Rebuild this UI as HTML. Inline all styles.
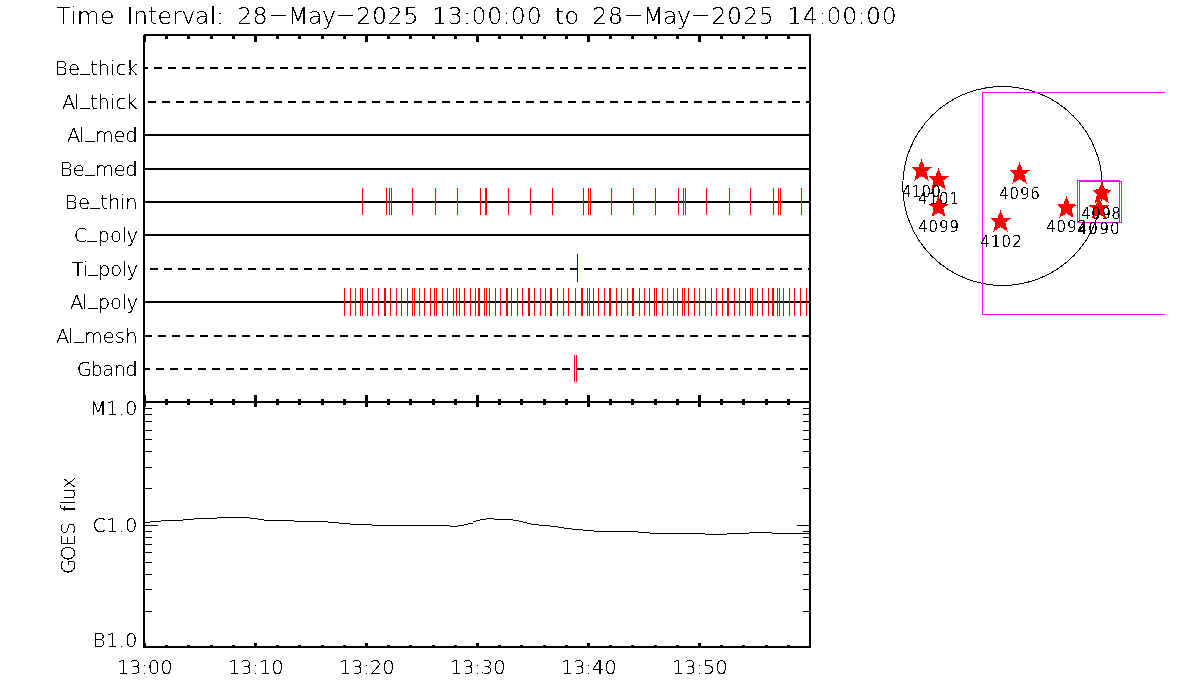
<!DOCTYPE html>
<html><head><meta charset="utf-8"><title>Time Interval plot</title>
<style>html,body{margin:0;padding:0;background:#fff;}svg{display:block;}
text{font-family:"DejaVu Sans","Liberation Sans",sans-serif;font-weight:200;fill:#000;}</style></head>
<body><svg xmlns="http://www.w3.org/2000/svg" width="1200" height="700" viewBox="0 0 1200 700">
<rect x="0" y="0" width="1200" height="700" fill="#fff"/>
<g shape-rendering="crispEdges">
<rect x="144" y="34" width="667" height="2" fill="#000"/>
<rect x="143" y="35" width="2" height="368" fill="#000"/>
<rect x="143" y="35" width="3" height="7" fill="#000"/>
<rect x="143" y="395" width="3" height="12" fill="#000"/>
<rect x="143" y="643" width="3" height="3" fill="#000"/>
<rect x="809" y="34" width="2" height="369" fill="#000"/>
<rect x="143" y="401" width="668" height="2" fill="#000"/>
<rect x="143" y="401" width="2" height="247" fill="#000"/>
<rect x="809" y="401" width="2" height="247" fill="#000"/>
<rect x="143" y="646" width="668" height="2" fill="#000"/>
<rect x="165" y="36" width="3" height="3" fill="#000"/>
<rect x="165" y="399" width="3" height="6" fill="#000"/>
<rect x="165" y="645" width="3" height="1" fill="#000"/>
<rect x="187" y="36" width="3" height="3" fill="#000"/>
<rect x="187" y="399" width="3" height="6" fill="#000"/>
<rect x="187" y="645" width="3" height="1" fill="#000"/>
<rect x="210" y="36" width="3" height="3" fill="#000"/>
<rect x="210" y="399" width="3" height="6" fill="#000"/>
<rect x="210" y="645" width="3" height="1" fill="#000"/>
<rect x="232" y="36" width="3" height="3" fill="#000"/>
<rect x="232" y="399" width="3" height="6" fill="#000"/>
<rect x="232" y="645" width="3" height="1" fill="#000"/>
<rect x="254" y="36" width="3" height="6" fill="#000"/>
<rect x="254" y="395" width="3" height="12" fill="#000"/>
<rect x="254" y="643" width="3" height="3" fill="#000"/>
<rect x="276" y="36" width="3" height="3" fill="#000"/>
<rect x="276" y="399" width="3" height="6" fill="#000"/>
<rect x="276" y="645" width="3" height="1" fill="#000"/>
<rect x="298" y="36" width="3" height="3" fill="#000"/>
<rect x="298" y="399" width="3" height="6" fill="#000"/>
<rect x="298" y="645" width="3" height="1" fill="#000"/>
<rect x="321" y="36" width="3" height="3" fill="#000"/>
<rect x="321" y="399" width="3" height="6" fill="#000"/>
<rect x="321" y="645" width="3" height="1" fill="#000"/>
<rect x="343" y="36" width="3" height="3" fill="#000"/>
<rect x="343" y="399" width="3" height="6" fill="#000"/>
<rect x="343" y="645" width="3" height="1" fill="#000"/>
<rect x="365" y="36" width="3" height="6" fill="#000"/>
<rect x="365" y="395" width="3" height="12" fill="#000"/>
<rect x="365" y="643" width="3" height="3" fill="#000"/>
<rect x="387" y="36" width="3" height="3" fill="#000"/>
<rect x="387" y="399" width="3" height="6" fill="#000"/>
<rect x="387" y="645" width="3" height="1" fill="#000"/>
<rect x="409" y="36" width="3" height="3" fill="#000"/>
<rect x="409" y="399" width="3" height="6" fill="#000"/>
<rect x="409" y="645" width="3" height="1" fill="#000"/>
<rect x="432" y="36" width="3" height="3" fill="#000"/>
<rect x="432" y="399" width="3" height="6" fill="#000"/>
<rect x="432" y="645" width="3" height="1" fill="#000"/>
<rect x="454" y="36" width="3" height="3" fill="#000"/>
<rect x="454" y="399" width="3" height="6" fill="#000"/>
<rect x="454" y="645" width="3" height="1" fill="#000"/>
<rect x="476" y="36" width="3" height="6" fill="#000"/>
<rect x="476" y="395" width="3" height="12" fill="#000"/>
<rect x="476" y="643" width="3" height="3" fill="#000"/>
<rect x="498" y="36" width="3" height="3" fill="#000"/>
<rect x="498" y="399" width="3" height="6" fill="#000"/>
<rect x="498" y="645" width="3" height="1" fill="#000"/>
<rect x="520" y="36" width="3" height="3" fill="#000"/>
<rect x="520" y="399" width="3" height="6" fill="#000"/>
<rect x="520" y="645" width="3" height="1" fill="#000"/>
<rect x="543" y="36" width="3" height="3" fill="#000"/>
<rect x="543" y="399" width="3" height="6" fill="#000"/>
<rect x="543" y="645" width="3" height="1" fill="#000"/>
<rect x="565" y="36" width="3" height="3" fill="#000"/>
<rect x="565" y="399" width="3" height="6" fill="#000"/>
<rect x="565" y="645" width="3" height="1" fill="#000"/>
<rect x="587" y="36" width="3" height="6" fill="#000"/>
<rect x="587" y="395" width="3" height="12" fill="#000"/>
<rect x="587" y="643" width="3" height="3" fill="#000"/>
<rect x="609" y="36" width="3" height="3" fill="#000"/>
<rect x="609" y="399" width="3" height="6" fill="#000"/>
<rect x="609" y="645" width="3" height="1" fill="#000"/>
<rect x="631" y="36" width="3" height="3" fill="#000"/>
<rect x="631" y="399" width="3" height="6" fill="#000"/>
<rect x="631" y="645" width="3" height="1" fill="#000"/>
<rect x="654" y="36" width="3" height="3" fill="#000"/>
<rect x="654" y="399" width="3" height="6" fill="#000"/>
<rect x="654" y="645" width="3" height="1" fill="#000"/>
<rect x="676" y="36" width="3" height="3" fill="#000"/>
<rect x="676" y="399" width="3" height="6" fill="#000"/>
<rect x="676" y="645" width="3" height="1" fill="#000"/>
<rect x="698" y="36" width="3" height="6" fill="#000"/>
<rect x="698" y="395" width="3" height="12" fill="#000"/>
<rect x="698" y="643" width="3" height="3" fill="#000"/>
<rect x="720" y="36" width="3" height="3" fill="#000"/>
<rect x="720" y="399" width="3" height="6" fill="#000"/>
<rect x="720" y="645" width="3" height="1" fill="#000"/>
<rect x="742" y="36" width="3" height="3" fill="#000"/>
<rect x="742" y="399" width="3" height="6" fill="#000"/>
<rect x="742" y="645" width="3" height="1" fill="#000"/>
<rect x="765" y="36" width="3" height="3" fill="#000"/>
<rect x="765" y="399" width="3" height="6" fill="#000"/>
<rect x="765" y="645" width="3" height="1" fill="#000"/>
<rect x="787" y="36" width="3" height="3" fill="#000"/>
<rect x="787" y="399" width="3" height="6" fill="#000"/>
<rect x="787" y="645" width="3" height="1" fill="#000"/>
<rect x="145" y="67" width="3" height="2" fill="#000"/>
<rect x="154" y="67" width="8" height="2" fill="#000"/>
<rect x="168" y="67" width="8" height="2" fill="#000"/>
<rect x="182" y="67" width="8" height="2" fill="#000"/>
<rect x="196" y="67" width="8" height="2" fill="#000"/>
<rect x="210" y="67" width="8" height="2" fill="#000"/>
<rect x="224" y="67" width="8" height="2" fill="#000"/>
<rect x="238" y="67" width="8" height="2" fill="#000"/>
<rect x="252" y="67" width="8" height="2" fill="#000"/>
<rect x="266" y="67" width="8" height="2" fill="#000"/>
<rect x="280" y="67" width="8" height="2" fill="#000"/>
<rect x="294" y="67" width="8" height="2" fill="#000"/>
<rect x="308" y="67" width="8" height="2" fill="#000"/>
<rect x="322" y="67" width="8" height="2" fill="#000"/>
<rect x="336" y="67" width="8" height="2" fill="#000"/>
<rect x="350" y="67" width="8" height="2" fill="#000"/>
<rect x="364" y="67" width="8" height="2" fill="#000"/>
<rect x="378" y="67" width="8" height="2" fill="#000"/>
<rect x="392" y="67" width="8" height="2" fill="#000"/>
<rect x="406" y="67" width="8" height="2" fill="#000"/>
<rect x="420" y="67" width="8" height="2" fill="#000"/>
<rect x="434" y="67" width="8" height="2" fill="#000"/>
<rect x="448" y="67" width="8" height="2" fill="#000"/>
<rect x="462" y="67" width="8" height="2" fill="#000"/>
<rect x="476" y="67" width="8" height="2" fill="#000"/>
<rect x="490" y="67" width="8" height="2" fill="#000"/>
<rect x="504" y="67" width="8" height="2" fill="#000"/>
<rect x="518" y="67" width="8" height="2" fill="#000"/>
<rect x="532" y="67" width="8" height="2" fill="#000"/>
<rect x="546" y="67" width="8" height="2" fill="#000"/>
<rect x="560" y="67" width="8" height="2" fill="#000"/>
<rect x="574" y="67" width="8" height="2" fill="#000"/>
<rect x="588" y="67" width="8" height="2" fill="#000"/>
<rect x="602" y="67" width="8" height="2" fill="#000"/>
<rect x="616" y="67" width="8" height="2" fill="#000"/>
<rect x="630" y="67" width="8" height="2" fill="#000"/>
<rect x="644" y="67" width="8" height="2" fill="#000"/>
<rect x="658" y="67" width="8" height="2" fill="#000"/>
<rect x="672" y="67" width="8" height="2" fill="#000"/>
<rect x="686" y="67" width="8" height="2" fill="#000"/>
<rect x="700" y="67" width="8" height="2" fill="#000"/>
<rect x="714" y="67" width="8" height="2" fill="#000"/>
<rect x="728" y="67" width="8" height="2" fill="#000"/>
<rect x="742" y="67" width="8" height="2" fill="#000"/>
<rect x="756" y="67" width="8" height="2" fill="#000"/>
<rect x="770" y="67" width="8" height="2" fill="#000"/>
<rect x="784" y="67" width="8" height="2" fill="#000"/>
<rect x="798" y="67" width="8" height="2" fill="#000"/>
<rect x="148" y="101" width="8" height="2" fill="#000"/>
<rect x="162" y="101" width="8" height="2" fill="#000"/>
<rect x="176" y="101" width="8" height="2" fill="#000"/>
<rect x="190" y="101" width="8" height="2" fill="#000"/>
<rect x="204" y="101" width="8" height="2" fill="#000"/>
<rect x="218" y="101" width="8" height="2" fill="#000"/>
<rect x="232" y="101" width="8" height="2" fill="#000"/>
<rect x="246" y="101" width="8" height="2" fill="#000"/>
<rect x="260" y="101" width="8" height="2" fill="#000"/>
<rect x="274" y="101" width="8" height="2" fill="#000"/>
<rect x="288" y="101" width="8" height="2" fill="#000"/>
<rect x="302" y="101" width="8" height="2" fill="#000"/>
<rect x="316" y="101" width="8" height="2" fill="#000"/>
<rect x="330" y="101" width="8" height="2" fill="#000"/>
<rect x="344" y="101" width="8" height="2" fill="#000"/>
<rect x="358" y="101" width="8" height="2" fill="#000"/>
<rect x="372" y="101" width="8" height="2" fill="#000"/>
<rect x="386" y="101" width="8" height="2" fill="#000"/>
<rect x="400" y="101" width="8" height="2" fill="#000"/>
<rect x="414" y="101" width="8" height="2" fill="#000"/>
<rect x="428" y="101" width="8" height="2" fill="#000"/>
<rect x="442" y="101" width="8" height="2" fill="#000"/>
<rect x="456" y="101" width="8" height="2" fill="#000"/>
<rect x="470" y="101" width="8" height="2" fill="#000"/>
<rect x="484" y="101" width="8" height="2" fill="#000"/>
<rect x="498" y="101" width="8" height="2" fill="#000"/>
<rect x="512" y="101" width="8" height="2" fill="#000"/>
<rect x="526" y="101" width="8" height="2" fill="#000"/>
<rect x="540" y="101" width="8" height="2" fill="#000"/>
<rect x="554" y="101" width="8" height="2" fill="#000"/>
<rect x="568" y="101" width="8" height="2" fill="#000"/>
<rect x="582" y="101" width="8" height="2" fill="#000"/>
<rect x="596" y="101" width="8" height="2" fill="#000"/>
<rect x="610" y="101" width="8" height="2" fill="#000"/>
<rect x="624" y="101" width="8" height="2" fill="#000"/>
<rect x="638" y="101" width="8" height="2" fill="#000"/>
<rect x="652" y="101" width="8" height="2" fill="#000"/>
<rect x="666" y="101" width="8" height="2" fill="#000"/>
<rect x="680" y="101" width="8" height="2" fill="#000"/>
<rect x="694" y="101" width="8" height="2" fill="#000"/>
<rect x="708" y="101" width="8" height="2" fill="#000"/>
<rect x="722" y="101" width="8" height="2" fill="#000"/>
<rect x="736" y="101" width="8" height="2" fill="#000"/>
<rect x="750" y="101" width="8" height="2" fill="#000"/>
<rect x="764" y="101" width="8" height="2" fill="#000"/>
<rect x="778" y="101" width="8" height="2" fill="#000"/>
<rect x="792" y="101" width="8" height="2" fill="#000"/>
<rect x="806" y="101" width="3" height="2" fill="#000"/>
<rect x="145" y="134" width="664" height="2" fill="#000"/>
<rect x="145" y="168" width="664" height="2" fill="#000"/>
<rect x="145" y="201" width="664" height="2" fill="#000"/>
<rect x="145" y="234" width="664" height="2" fill="#000"/>
<rect x="150" y="268" width="8" height="2" fill="#000"/>
<rect x="164" y="268" width="8" height="2" fill="#000"/>
<rect x="178" y="268" width="8" height="2" fill="#000"/>
<rect x="192" y="268" width="8" height="2" fill="#000"/>
<rect x="206" y="268" width="8" height="2" fill="#000"/>
<rect x="220" y="268" width="8" height="2" fill="#000"/>
<rect x="234" y="268" width="8" height="2" fill="#000"/>
<rect x="248" y="268" width="8" height="2" fill="#000"/>
<rect x="262" y="268" width="8" height="2" fill="#000"/>
<rect x="276" y="268" width="8" height="2" fill="#000"/>
<rect x="290" y="268" width="8" height="2" fill="#000"/>
<rect x="304" y="268" width="8" height="2" fill="#000"/>
<rect x="318" y="268" width="8" height="2" fill="#000"/>
<rect x="332" y="268" width="8" height="2" fill="#000"/>
<rect x="346" y="268" width="8" height="2" fill="#000"/>
<rect x="360" y="268" width="8" height="2" fill="#000"/>
<rect x="374" y="268" width="8" height="2" fill="#000"/>
<rect x="388" y="268" width="8" height="2" fill="#000"/>
<rect x="402" y="268" width="8" height="2" fill="#000"/>
<rect x="416" y="268" width="8" height="2" fill="#000"/>
<rect x="430" y="268" width="8" height="2" fill="#000"/>
<rect x="444" y="268" width="8" height="2" fill="#000"/>
<rect x="458" y="268" width="8" height="2" fill="#000"/>
<rect x="472" y="268" width="8" height="2" fill="#000"/>
<rect x="486" y="268" width="8" height="2" fill="#000"/>
<rect x="500" y="268" width="8" height="2" fill="#000"/>
<rect x="514" y="268" width="8" height="2" fill="#000"/>
<rect x="528" y="268" width="8" height="2" fill="#000"/>
<rect x="542" y="268" width="8" height="2" fill="#000"/>
<rect x="556" y="268" width="8" height="2" fill="#000"/>
<rect x="570" y="268" width="8" height="2" fill="#000"/>
<rect x="584" y="268" width="8" height="2" fill="#000"/>
<rect x="598" y="268" width="8" height="2" fill="#000"/>
<rect x="612" y="268" width="8" height="2" fill="#000"/>
<rect x="626" y="268" width="8" height="2" fill="#000"/>
<rect x="640" y="268" width="8" height="2" fill="#000"/>
<rect x="654" y="268" width="8" height="2" fill="#000"/>
<rect x="668" y="268" width="8" height="2" fill="#000"/>
<rect x="682" y="268" width="8" height="2" fill="#000"/>
<rect x="696" y="268" width="8" height="2" fill="#000"/>
<rect x="710" y="268" width="8" height="2" fill="#000"/>
<rect x="724" y="268" width="8" height="2" fill="#000"/>
<rect x="738" y="268" width="8" height="2" fill="#000"/>
<rect x="752" y="268" width="8" height="2" fill="#000"/>
<rect x="766" y="268" width="8" height="2" fill="#000"/>
<rect x="780" y="268" width="8" height="2" fill="#000"/>
<rect x="794" y="268" width="8" height="2" fill="#000"/>
<rect x="808" y="268" width="1" height="2" fill="#000"/>
<rect x="145" y="301" width="664" height="2" fill="#000"/>
<rect x="145" y="335" width="7" height="2" fill="#000"/>
<rect x="158" y="335" width="8" height="2" fill="#000"/>
<rect x="172" y="335" width="8" height="2" fill="#000"/>
<rect x="186" y="335" width="8" height="2" fill="#000"/>
<rect x="200" y="335" width="8" height="2" fill="#000"/>
<rect x="214" y="335" width="8" height="2" fill="#000"/>
<rect x="228" y="335" width="8" height="2" fill="#000"/>
<rect x="242" y="335" width="8" height="2" fill="#000"/>
<rect x="256" y="335" width="8" height="2" fill="#000"/>
<rect x="270" y="335" width="8" height="2" fill="#000"/>
<rect x="284" y="335" width="8" height="2" fill="#000"/>
<rect x="298" y="335" width="8" height="2" fill="#000"/>
<rect x="312" y="335" width="8" height="2" fill="#000"/>
<rect x="326" y="335" width="8" height="2" fill="#000"/>
<rect x="340" y="335" width="8" height="2" fill="#000"/>
<rect x="354" y="335" width="8" height="2" fill="#000"/>
<rect x="368" y="335" width="8" height="2" fill="#000"/>
<rect x="382" y="335" width="8" height="2" fill="#000"/>
<rect x="396" y="335" width="8" height="2" fill="#000"/>
<rect x="410" y="335" width="8" height="2" fill="#000"/>
<rect x="424" y="335" width="8" height="2" fill="#000"/>
<rect x="438" y="335" width="8" height="2" fill="#000"/>
<rect x="452" y="335" width="8" height="2" fill="#000"/>
<rect x="466" y="335" width="8" height="2" fill="#000"/>
<rect x="480" y="335" width="8" height="2" fill="#000"/>
<rect x="494" y="335" width="8" height="2" fill="#000"/>
<rect x="508" y="335" width="8" height="2" fill="#000"/>
<rect x="522" y="335" width="8" height="2" fill="#000"/>
<rect x="536" y="335" width="8" height="2" fill="#000"/>
<rect x="550" y="335" width="8" height="2" fill="#000"/>
<rect x="564" y="335" width="8" height="2" fill="#000"/>
<rect x="578" y="335" width="8" height="2" fill="#000"/>
<rect x="592" y="335" width="8" height="2" fill="#000"/>
<rect x="606" y="335" width="8" height="2" fill="#000"/>
<rect x="620" y="335" width="8" height="2" fill="#000"/>
<rect x="634" y="335" width="8" height="2" fill="#000"/>
<rect x="648" y="335" width="8" height="2" fill="#000"/>
<rect x="662" y="335" width="8" height="2" fill="#000"/>
<rect x="676" y="335" width="8" height="2" fill="#000"/>
<rect x="690" y="335" width="8" height="2" fill="#000"/>
<rect x="704" y="335" width="8" height="2" fill="#000"/>
<rect x="718" y="335" width="8" height="2" fill="#000"/>
<rect x="732" y="335" width="8" height="2" fill="#000"/>
<rect x="746" y="335" width="8" height="2" fill="#000"/>
<rect x="760" y="335" width="8" height="2" fill="#000"/>
<rect x="774" y="335" width="8" height="2" fill="#000"/>
<rect x="788" y="335" width="8" height="2" fill="#000"/>
<rect x="802" y="335" width="7" height="2" fill="#000"/>
<rect x="145" y="368" width="5" height="2" fill="#000"/>
<rect x="156" y="368" width="8" height="2" fill="#000"/>
<rect x="170" y="368" width="8" height="2" fill="#000"/>
<rect x="184" y="368" width="8" height="2" fill="#000"/>
<rect x="198" y="368" width="8" height="2" fill="#000"/>
<rect x="212" y="368" width="8" height="2" fill="#000"/>
<rect x="226" y="368" width="8" height="2" fill="#000"/>
<rect x="240" y="368" width="8" height="2" fill="#000"/>
<rect x="254" y="368" width="8" height="2" fill="#000"/>
<rect x="268" y="368" width="8" height="2" fill="#000"/>
<rect x="282" y="368" width="8" height="2" fill="#000"/>
<rect x="296" y="368" width="8" height="2" fill="#000"/>
<rect x="310" y="368" width="8" height="2" fill="#000"/>
<rect x="324" y="368" width="8" height="2" fill="#000"/>
<rect x="338" y="368" width="8" height="2" fill="#000"/>
<rect x="352" y="368" width="8" height="2" fill="#000"/>
<rect x="366" y="368" width="8" height="2" fill="#000"/>
<rect x="380" y="368" width="8" height="2" fill="#000"/>
<rect x="394" y="368" width="8" height="2" fill="#000"/>
<rect x="408" y="368" width="8" height="2" fill="#000"/>
<rect x="422" y="368" width="8" height="2" fill="#000"/>
<rect x="436" y="368" width="8" height="2" fill="#000"/>
<rect x="450" y="368" width="8" height="2" fill="#000"/>
<rect x="464" y="368" width="8" height="2" fill="#000"/>
<rect x="478" y="368" width="8" height="2" fill="#000"/>
<rect x="492" y="368" width="8" height="2" fill="#000"/>
<rect x="506" y="368" width="8" height="2" fill="#000"/>
<rect x="520" y="368" width="8" height="2" fill="#000"/>
<rect x="534" y="368" width="8" height="2" fill="#000"/>
<rect x="548" y="368" width="8" height="2" fill="#000"/>
<rect x="562" y="368" width="8" height="2" fill="#000"/>
<rect x="576" y="368" width="8" height="2" fill="#000"/>
<rect x="590" y="368" width="8" height="2" fill="#000"/>
<rect x="604" y="368" width="8" height="2" fill="#000"/>
<rect x="618" y="368" width="8" height="2" fill="#000"/>
<rect x="632" y="368" width="8" height="2" fill="#000"/>
<rect x="646" y="368" width="8" height="2" fill="#000"/>
<rect x="660" y="368" width="8" height="2" fill="#000"/>
<rect x="674" y="368" width="8" height="2" fill="#000"/>
<rect x="688" y="368" width="8" height="2" fill="#000"/>
<rect x="702" y="368" width="8" height="2" fill="#000"/>
<rect x="716" y="368" width="8" height="2" fill="#000"/>
<rect x="730" y="368" width="8" height="2" fill="#000"/>
<rect x="744" y="368" width="8" height="2" fill="#000"/>
<rect x="758" y="368" width="8" height="2" fill="#000"/>
<rect x="772" y="368" width="8" height="2" fill="#000"/>
<rect x="786" y="368" width="8" height="2" fill="#000"/>
<rect x="800" y="368" width="8" height="2" fill="#000"/>
<rect x="362" y="188" width="1" height="27" fill="#f00"/>
<rect x="386" y="188" width="1" height="27" fill="#f00"/>
<rect x="389" y="188" width="1" height="27" fill="#f00"/>
<rect x="391" y="188" width="1" height="27" fill="#f00"/>
<rect x="412" y="188" width="1" height="27" fill="#f00"/>
<rect x="435" y="188" width="1" height="27" fill="#f00"/>
<rect x="457" y="188" width="1" height="27" fill="#f00"/>
<rect x="480" y="188" width="1" height="27" fill="#f00"/>
<rect x="485" y="188" width="1" height="27" fill="#f00"/>
<rect x="486" y="188" width="1" height="27" fill="#f00"/>
<rect x="508" y="188" width="1" height="27" fill="#f00"/>
<rect x="530" y="188" width="1" height="27" fill="#f00"/>
<rect x="552" y="188" width="1" height="27" fill="#f00"/>
<rect x="583" y="188" width="1" height="27" fill="#f00"/>
<rect x="588" y="188" width="1" height="27" fill="#f00"/>
<rect x="590" y="188" width="1" height="27" fill="#f00"/>
<rect x="611" y="188" width="1" height="27" fill="#f00"/>
<rect x="633" y="188" width="1" height="27" fill="#f00"/>
<rect x="655" y="188" width="1" height="27" fill="#f00"/>
<rect x="678" y="188" width="1" height="27" fill="#f00"/>
<rect x="683" y="188" width="1" height="27" fill="#f00"/>
<rect x="685" y="188" width="1" height="27" fill="#f00"/>
<rect x="706" y="188" width="1" height="27" fill="#f00"/>
<rect x="729" y="188" width="1" height="27" fill="#f00"/>
<rect x="750" y="188" width="1" height="27" fill="#f00"/>
<rect x="773" y="188" width="1" height="27" fill="#f00"/>
<rect x="778" y="188" width="1" height="27" fill="#f00"/>
<rect x="780" y="188" width="1" height="27" fill="#f00"/>
<rect x="801" y="188" width="1" height="27" fill="#f00"/>
<rect x="344" y="288" width="1" height="28" fill="#f00"/>
<rect x="350" y="288" width="1" height="28" fill="#f00"/>
<rect x="355" y="288" width="1" height="28" fill="#f00"/>
<rect x="360" y="288" width="1" height="28" fill="#f00"/>
<rect x="362" y="288" width="1" height="28" fill="#f00"/>
<rect x="367" y="288" width="1" height="28" fill="#f00"/>
<rect x="372" y="288" width="1" height="28" fill="#f00"/>
<rect x="378" y="288" width="1" height="28" fill="#f00"/>
<rect x="384" y="288" width="1" height="28" fill="#f00"/>
<rect x="385" y="288" width="1" height="28" fill="#f00"/>
<rect x="390" y="288" width="1" height="28" fill="#f00"/>
<rect x="396" y="288" width="1" height="28" fill="#f00"/>
<rect x="401" y="288" width="1" height="28" fill="#f00"/>
<rect x="407" y="288" width="1" height="28" fill="#f00"/>
<rect x="412" y="288" width="1" height="28" fill="#f00"/>
<rect x="414" y="288" width="1" height="28" fill="#f00"/>
<rect x="419" y="288" width="1" height="28" fill="#f00"/>
<rect x="424" y="288" width="1" height="28" fill="#f00"/>
<rect x="430" y="288" width="1" height="28" fill="#f00"/>
<rect x="434" y="288" width="1" height="28" fill="#f00"/>
<rect x="436" y="288" width="1" height="28" fill="#f00"/>
<rect x="442" y="288" width="1" height="28" fill="#f00"/>
<rect x="447" y="288" width="1" height="28" fill="#f00"/>
<rect x="453" y="288" width="1" height="28" fill="#f00"/>
<rect x="456" y="288" width="1" height="28" fill="#f00"/>
<rect x="459" y="288" width="1" height="28" fill="#f00"/>
<rect x="464" y="288" width="1" height="28" fill="#f00"/>
<rect x="470" y="288" width="1" height="28" fill="#f00"/>
<rect x="475" y="288" width="1" height="28" fill="#f00"/>
<rect x="478" y="288" width="1" height="28" fill="#f00"/>
<rect x="479" y="288" width="1" height="28" fill="#f00"/>
<rect x="484" y="288" width="1" height="28" fill="#f00"/>
<rect x="486" y="288" width="1" height="28" fill="#f00"/>
<rect x="489" y="288" width="1" height="28" fill="#f00"/>
<rect x="495" y="288" width="1" height="28" fill="#f00"/>
<rect x="500" y="288" width="1" height="28" fill="#f00"/>
<rect x="506" y="288" width="1" height="28" fill="#f00"/>
<rect x="507" y="288" width="1" height="28" fill="#f00"/>
<rect x="511" y="288" width="1" height="28" fill="#f00"/>
<rect x="517" y="288" width="1" height="28" fill="#f00"/>
<rect x="522" y="288" width="1" height="28" fill="#f00"/>
<rect x="528" y="288" width="1" height="28" fill="#f00"/>
<rect x="529" y="288" width="1" height="28" fill="#f00"/>
<rect x="534" y="288" width="1" height="28" fill="#f00"/>
<rect x="540" y="288" width="1" height="28" fill="#f00"/>
<rect x="545" y="288" width="1" height="28" fill="#f00"/>
<rect x="550" y="288" width="1" height="28" fill="#f00"/>
<rect x="551" y="288" width="1" height="28" fill="#f00"/>
<rect x="557" y="288" width="1" height="28" fill="#f00"/>
<rect x="563" y="288" width="1" height="28" fill="#f00"/>
<rect x="568" y="288" width="1" height="28" fill="#f00"/>
<rect x="575" y="288" width="1" height="28" fill="#f00"/>
<rect x="581" y="288" width="1" height="28" fill="#f00"/>
<rect x="582" y="288" width="1" height="28" fill="#f00"/>
<rect x="587" y="288" width="1" height="28" fill="#f00"/>
<rect x="589" y="288" width="1" height="28" fill="#f00"/>
<rect x="593" y="288" width="1" height="28" fill="#f00"/>
<rect x="598" y="288" width="1" height="28" fill="#f00"/>
<rect x="604" y="288" width="1" height="28" fill="#f00"/>
<rect x="609" y="288" width="1" height="28" fill="#f00"/>
<rect x="610" y="288" width="1" height="28" fill="#f00"/>
<rect x="616" y="288" width="1" height="28" fill="#f00"/>
<rect x="621" y="288" width="1" height="28" fill="#f00"/>
<rect x="627" y="288" width="1" height="28" fill="#f00"/>
<rect x="632" y="288" width="1" height="28" fill="#f00"/>
<rect x="633" y="288" width="1" height="28" fill="#f00"/>
<rect x="639" y="288" width="1" height="28" fill="#f00"/>
<rect x="644" y="288" width="1" height="28" fill="#f00"/>
<rect x="649" y="288" width="1" height="28" fill="#f00"/>
<rect x="654" y="288" width="1" height="28" fill="#f00"/>
<rect x="656" y="288" width="1" height="28" fill="#f00"/>
<rect x="662" y="288" width="1" height="28" fill="#f00"/>
<rect x="667" y="288" width="1" height="28" fill="#f00"/>
<rect x="673" y="288" width="1" height="28" fill="#f00"/>
<rect x="677" y="288" width="1" height="28" fill="#f00"/>
<rect x="682" y="288" width="1" height="28" fill="#f00"/>
<rect x="684" y="288" width="1" height="28" fill="#f00"/>
<rect x="688" y="288" width="1" height="28" fill="#f00"/>
<rect x="694" y="288" width="1" height="28" fill="#f00"/>
<rect x="699" y="288" width="1" height="28" fill="#f00"/>
<rect x="705" y="288" width="1" height="28" fill="#f00"/>
<rect x="711" y="288" width="1" height="28" fill="#f00"/>
<rect x="716" y="288" width="1" height="28" fill="#f00"/>
<rect x="722" y="288" width="1" height="28" fill="#f00"/>
<rect x="727" y="288" width="1" height="28" fill="#f00"/>
<rect x="728" y="288" width="1" height="28" fill="#f00"/>
<rect x="734" y="288" width="1" height="28" fill="#f00"/>
<rect x="739" y="288" width="1" height="28" fill="#f00"/>
<rect x="745" y="288" width="1" height="28" fill="#f00"/>
<rect x="750" y="288" width="1" height="28" fill="#f00"/>
<rect x="752" y="288" width="1" height="28" fill="#f00"/>
<rect x="757" y="288" width="1" height="28" fill="#f00"/>
<rect x="762" y="288" width="1" height="28" fill="#f00"/>
<rect x="768" y="288" width="1" height="28" fill="#f00"/>
<rect x="772" y="288" width="1" height="28" fill="#f00"/>
<rect x="773" y="288" width="1" height="28" fill="#f00"/>
<rect x="777" y="288" width="1" height="28" fill="#f00"/>
<rect x="779" y="288" width="1" height="28" fill="#f00"/>
<rect x="783" y="288" width="1" height="28" fill="#f00"/>
<rect x="789" y="288" width="1" height="28" fill="#f00"/>
<rect x="794" y="288" width="1" height="28" fill="#f00"/>
<rect x="800" y="288" width="1" height="28" fill="#f00"/>
<rect x="806" y="288" width="1" height="28" fill="#f00"/>
<rect x="577" y="254" width="1" height="28" fill="#00f"/>
<rect x="574" y="355" width="1" height="27" fill="#f00"/>
<rect x="576" y="355" width="1" height="27" fill="#f00"/>
<rect x="145" y="488" width="7" height="1" fill="#000"/>
<rect x="803" y="488" width="6" height="1" fill="#000"/>
<rect x="145" y="467" width="7" height="1" fill="#000"/>
<rect x="803" y="467" width="6" height="1" fill="#000"/>
<rect x="145" y="451" width="7" height="1" fill="#000"/>
<rect x="803" y="451" width="6" height="1" fill="#000"/>
<rect x="145" y="439" width="7" height="1" fill="#000"/>
<rect x="803" y="439" width="6" height="1" fill="#000"/>
<rect x="145" y="430" width="7" height="1" fill="#000"/>
<rect x="803" y="430" width="6" height="1" fill="#000"/>
<rect x="145" y="421" width="7" height="1" fill="#000"/>
<rect x="803" y="421" width="6" height="1" fill="#000"/>
<rect x="145" y="414" width="7" height="1" fill="#000"/>
<rect x="803" y="414" width="6" height="1" fill="#000"/>
<rect x="145" y="408" width="7" height="1" fill="#000"/>
<rect x="803" y="408" width="6" height="1" fill="#000"/>
<rect x="145" y="611" width="7" height="1" fill="#000"/>
<rect x="803" y="611" width="6" height="1" fill="#000"/>
<rect x="145" y="589" width="7" height="1" fill="#000"/>
<rect x="803" y="589" width="6" height="1" fill="#000"/>
<rect x="145" y="574" width="7" height="1" fill="#000"/>
<rect x="803" y="574" width="6" height="1" fill="#000"/>
<rect x="145" y="562" width="7" height="1" fill="#000"/>
<rect x="803" y="562" width="6" height="1" fill="#000"/>
<rect x="145" y="552" width="7" height="1" fill="#000"/>
<rect x="803" y="552" width="6" height="1" fill="#000"/>
<rect x="145" y="544" width="7" height="1" fill="#000"/>
<rect x="803" y="544" width="6" height="1" fill="#000"/>
<rect x="145" y="537" width="7" height="1" fill="#000"/>
<rect x="803" y="537" width="6" height="1" fill="#000"/>
<rect x="145" y="531" width="7" height="1" fill="#000"/>
<rect x="803" y="531" width="6" height="1" fill="#000"/>
<rect x="145" y="525" width="13" height="1" fill="#000"/>
<rect x="797" y="525" width="12" height="1" fill="#000"/>
<rect x="145" y="522" width="5" height="1" fill="#000"/>
<rect x="150" y="521" width="11" height="1" fill="#000"/>
<rect x="161" y="520" width="22" height="1" fill="#000"/>
<rect x="183" y="519" width="11" height="1" fill="#000"/>
<rect x="194" y="518" width="23" height="1" fill="#000"/>
<rect x="217" y="517" width="33" height="1" fill="#000"/>
<rect x="250" y="518" width="8" height="1" fill="#000"/>
<rect x="258" y="519" width="6" height="1" fill="#000"/>
<rect x="264" y="520" width="30" height="1" fill="#000"/>
<rect x="294" y="521" width="34" height="1" fill="#000"/>
<rect x="328" y="522" width="11" height="1" fill="#000"/>
<rect x="339" y="523" width="11" height="1" fill="#000"/>
<rect x="350" y="524" width="22" height="1" fill="#000"/>
<rect x="372" y="525" width="78" height="1" fill="#000"/>
<rect x="450" y="526" width="8" height="1" fill="#000"/>
<rect x="458" y="525" width="6" height="1" fill="#000"/>
<rect x="464" y="524" width="4" height="1" fill="#000"/>
<rect x="468" y="523" width="5" height="1" fill="#000"/>
<rect x="473" y="521" width="3" height="1" fill="#000"/>
<rect x="476" y="520" width="4" height="1" fill="#000"/>
<rect x="480" y="519" width="6" height="1" fill="#000"/>
<rect x="486" y="518" width="8" height="1" fill="#000"/>
<rect x="494" y="519" width="19" height="1" fill="#000"/>
<rect x="513" y="520" width="6" height="1" fill="#000"/>
<rect x="519" y="521" width="4" height="1" fill="#000"/>
<rect x="523" y="522" width="4" height="1" fill="#000"/>
<rect x="527" y="523" width="4" height="1" fill="#000"/>
<rect x="531" y="524" width="8" height="1" fill="#000"/>
<rect x="539" y="525" width="11" height="1" fill="#000"/>
<rect x="550" y="526" width="8" height="1" fill="#000"/>
<rect x="558" y="527" width="6" height="1" fill="#000"/>
<rect x="564" y="528" width="8" height="1" fill="#000"/>
<rect x="572" y="529" width="11" height="1" fill="#000"/>
<rect x="583" y="530" width="11" height="1" fill="#000"/>
<rect x="594" y="531" width="44" height="1" fill="#000"/>
<rect x="638" y="532" width="12" height="1" fill="#000"/>
<rect x="650" y="533" width="55" height="1" fill="#000"/>
<rect x="705" y="534" width="22" height="1" fill="#000"/>
<rect x="727" y="533" width="22" height="1" fill="#000"/>
<rect x="749" y="532" width="23" height="1" fill="#000"/>
<rect x="772" y="533" width="37" height="1" fill="#000"/>
<ellipse cx="1002.5" cy="186" rx="99.75" ry="99.5" fill="none" stroke="#000" stroke-width="1" shape-rendering="crispEdges"/>
<rect x="982" y="92" width="183" height="1" fill="#f0f"/>
<rect x="982" y="314" width="183" height="1" fill="#f0f"/>
<rect x="982" y="92" width="1" height="223" fill="#f0f"/>
<rect x="1077.5" y="180.5" width="42" height="42" fill="none" stroke="#f0f" stroke-width="1"/>
<rect x="1079.5" y="181.5" width="42" height="41" fill="none" stroke="#f0f" stroke-width="1"/>
<polygon points="921.5,159.0 924.5,166.6 931.6,167.5 926.4,171.6 928.6,180.7 921.5,176.0 914.4,180.7 916.6,171.6 911.7,167.5 918.5,166.6" fill="#f00" shape-rendering="crispEdges"/>
<polygon points="938.5,168.0 941.5,175.6 948.6,176.5 943.4,180.6 945.6,189.7 938.5,185.0 931.4,189.7 933.6,180.6 928.7,176.5 935.5,175.6" fill="#f00" shape-rendering="crispEdges"/>
<polygon points="938.5,195.5 941.5,203.1 948.6,204.0 943.4,208.1 945.6,217.2 938.5,212.5 931.4,217.2 933.6,208.1 928.7,204.0 935.5,203.1" fill="#f00" shape-rendering="crispEdges"/>
<polygon points="1019.5,162.0 1022.5,169.6 1029.6,170.5 1024.4,174.6 1026.6,183.7 1019.5,179.0 1012.4,183.7 1014.6,174.6 1009.7,170.5 1016.5,169.6" fill="#f00" shape-rendering="crispEdges"/>
<polygon points="1000.5,210.0 1003.5,217.6 1010.6,218.5 1005.4,222.6 1007.6,231.7 1000.5,227.0 993.4,231.7 995.6,222.6 990.7,218.5 997.5,217.6" fill="#f00" shape-rendering="crispEdges"/>
<polygon points="1066.5,196.2 1069.5,203.8 1076.6,204.7 1071.4,208.8 1073.6,217.9 1066.5,213.2 1059.4,217.9 1061.6,208.8 1056.7,204.7 1063.5,203.8" fill="#f00" shape-rendering="crispEdges"/>
<polygon points="1101.8,181.5 1104.8,189.1 1111.9,190.0 1106.7,194.1 1108.9,203.2 1101.8,198.5 1094.7,203.2 1096.9,194.1 1092.0,190.0 1098.8,189.1" fill="#f00" shape-rendering="crispEdges"/>
<polygon points="1099.0,197.0 1102.0,204.6 1109.1,205.5 1103.9,209.6 1106.1,218.7 1099.0,214.0 1091.9,218.7 1094.1,209.6 1089.2,205.5 1096.0,204.6" fill="#f00" shape-rendering="crispEdges"/>
</g>
<defs><filter id="crisp" x="0" y="0" width="1200" height="700" filterUnits="userSpaceOnUse" color-interpolation-filters="sRGB"><feComponentTransfer><feFuncA type="discrete" tableValues="0 0 1 1 1"/></feComponentTransfer></filter><filter id="crisp2" x="0" y="0" width="1200" height="700" filterUnits="userSpaceOnUse" color-interpolation-filters="sRGB"><feComponentTransfer><feFuncA type="discrete" tableValues="0 1 1 1"/></feComponentTransfer></filter></defs>
<g filter="url(#crisp)">
<text x="56.57 69.95 76.77 99.92 116.83 126.57 133.25 148.32 157.54 172.17 181.49 195.05 209.64 216.05 226.53 237.00 252.78 274.17 288.00 307.91 321.97 341.25 356.17 371.95 387.74 403.52 421.47 431.93 447.72 463.07 471.39 487.18 502.53 510.85 526.64 544.58 554.76 564.41 581.68 592.14 607.92 629.31 643.14 663.05 677.11 696.39 711.31 727.09 742.88 758.66 776.61 787.07 802.86 818.21 826.53 842.32 857.67 865.99 881.78" y="24.13 24.13 24.13 24.13 24.13 24.13 24.13 24.13 24.13 24.13 24.13 24.13 24.13 24.13 24.13 24.13 24.13 22.13 24.13 24.13 24.13 22.13 24.13 24.13 24.13 24.13 24.13 24.13 24.13 24.13 24.13 24.13 24.13 24.13 24.13 24.13 24.13 24.13 24.13 24.13 24.13 22.13 24.13 24.13 24.13 22.13 24.13 24.13 24.13 24.13 24.13 24.13 24.13 24.13 24.13 24.13 24.13 24.13 24.13" font-size="23.5">Time Interval: 28-May-2025 13:00:00 to 28-May-2025 14:00:00</text><text x="0" y="0" font-size="23.5" text-anchor="middle" transform="translate(278.41,22.13) scale(2.4,1)">-</text><text x="0" y="0" font-size="23.5" text-anchor="middle" transform="translate(345.49,22.13) scale(2.4,1)">-</text><text x="0" y="0" font-size="23.5" text-anchor="middle" transform="translate(633.55,22.13) scale(2.4,1)">-</text><text x="0" y="0" font-size="23.5" text-anchor="middle" transform="translate(700.63,22.13) scale(2.4,1)">-</text>
<text x="55.08 67.99 80.03 90.07 97.67 109.81 115.51 126.46" y="74.58 74.58 70.39 74.58 74.58 74.58 74.58 74.58" font-size="19.5">Be_thick</text>
<text x="61.98 74.30 79.85 89.91 97.53 109.68 115.39 126.37" y="108.58 108.58 104.39 108.58 108.58 108.58 108.58 108.58" font-size="19.5">Al_thick</text>
<text x="66.88 79.16 84.66 94.75 113.59 125.23" y="141.58 141.58 137.39 141.58 141.58 141.58" font-size="19.5">Al_med</text>
<text x="59.96 72.81 84.80 94.88 113.72 125.35" y="175.58 175.58 171.39 175.58 175.58 175.58" font-size="19.5">Be_med</text>
<text x="65.02 78.01 90.12 100.22 107.88 120.07 125.33" y="208.58 208.58 204.39 208.58 208.58 208.58 208.58" font-size="19.5">Be_thin</text>
<text x="73.77 87.60 97.55 110.00 121.95 126.61" y="241.58 237.39 241.58 241.58 241.58 241.58" font-size="19.5">C_poly</text>
<text x="72.04 82.87 88.29 98.03 110.26 122.04 126.56" y="275.58 275.58 271.39 275.58 275.58 275.58 275.58" font-size="19.5">Ti_poly</text>
<text x="69.97 82.26 87.77 97.67 110.05 121.95 126.58" y="308.58 308.58 304.39 308.58 308.58 308.58 308.58" font-size="19.5">Al_poly</text>
<text x="55.88 68.17 73.69 83.81 102.68 114.81 125.25" y="342.58 342.58 338.39 342.58 342.58 342.58 342.58" font-size="19.5">Al_mesh</text>
<text x="76.77 90.40 102.27 113.72 125.37" y="375.58" font-size="19.5">Gband</text>
<text x="89.76 105.98 118.64 125.09" y="415.22" font-size="19.5">M1.0</text>
<text x="92.55 106.09 118.65 125.01" y="532.22" font-size="19.5">C1.0</text>
<text x="92.85 106.05 118.68 125.10" y="647.22" font-size="19.5">B1.0</text>
<text x="116.65 129.08 141.32 147.73 160.15" y="674.22" font-size="19.5">13:00</text>
<text x="227.65 240.08 252.32 258.73 271.15" y="674.22" font-size="19.5">13:10</text>
<text x="338.65 351.08 363.32 369.73 382.15" y="674.22" font-size="19.5">13:20</text>
<text x="449.65 462.08 474.32 480.73 493.15" y="674.22" font-size="19.5">13:30</text>
<text x="560.65 573.08 585.32 591.73 604.15" y="674.22" font-size="19.5">13:40</text>
<text x="671.65 684.08 696.32 702.73 715.15" y="674.22" font-size="19.5">13:50</text>
<text x="-574.24 -561.03 -546.77 -534.71 -520.38 -512.04 -505.10 -500.29 -488.71" y="74.50" font-size="20" transform="rotate(-90)">GOES flux</text>
</g>
<g filter="url(#crisp2)">
<text x="902.12 911.85 921.58 931.31" y="197.38" font-size="15.0">4100</text>
<text x="918.01 928.47 938.93 949.39" y="204.38" font-size="15.0">4101</text>
<text x="918.34 928.61 938.88 949.15" y="232.38" font-size="15.0">4099</text>
<text x="999.34 1009.61 1019.88 1030.15" y="199.38" font-size="15.0">4096</text>
<text x="980.34 990.94 1001.54 1012.15" y="247.38" font-size="15.0">4102</text>
<text x="1046.23 1056.56 1066.89 1077.23" y="232.38" font-size="15.0">4092</text>
<text x="1081.23 1091.23 1101.23 1111.23" y="219.38" font-size="15.0">4098</text>
<text x="1077.44 1088.32 1099.19 1110.07" y="234.38" font-size="15.0">4090</text>
</g>
</svg></body></html>
